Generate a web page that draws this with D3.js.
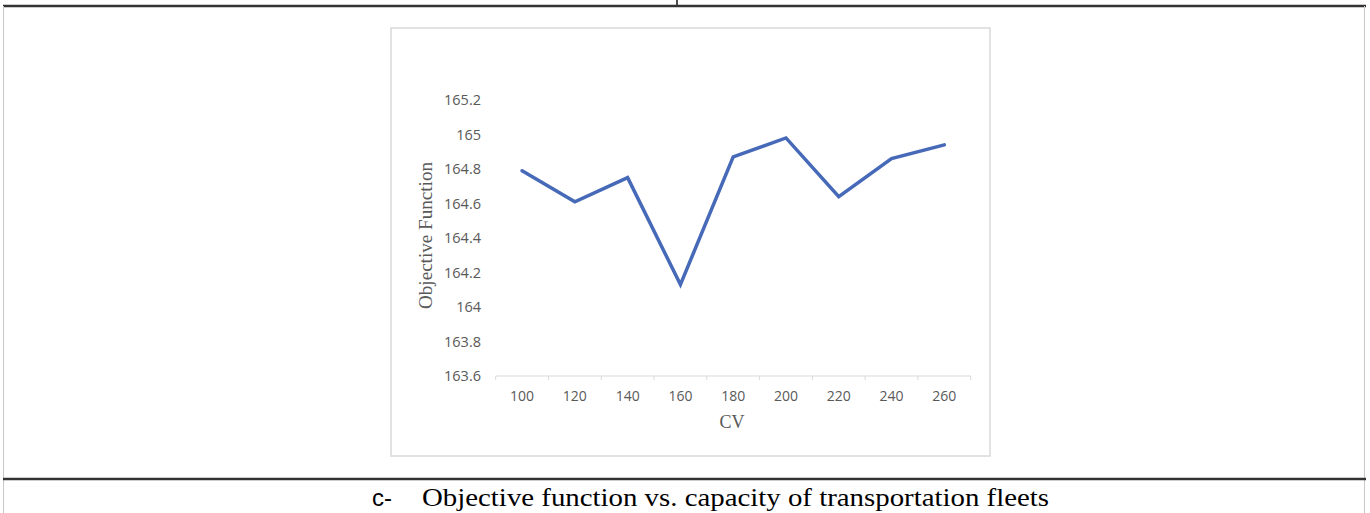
<!DOCTYPE html>
<html>
<head>
<meta charset="utf-8">
<script src="https://cdn.jsdelivr.net/npm/d3@7"></script>
<style>
  html, body { margin: 0; padding: 0; background: #fff; }
  svg { display: block; }
</style>
</head>
<body>
<svg id="fig" width="1370" height="513"></svg>
<script>
// Fleet capacity (CV) and the resulting objective function value
const categories = ["100", "120", "140", "160", "180", "200", "220", "240", "260"];
const objectiveValues = [164.79, 164.61, 164.75, 164.13, 164.87, 164.98, 164.64, 164.86, 164.94];
const yTicks = [163.6, 163.8, 164, 164.2, 164.4, 164.6, 164.8, 165, 165.2];

const svg = d3.select("#fig");

// Table rules surrounding the figure cell
svg.append("line").attr("x1", 677).attr("x2", 677).attr("y1", 0).attr("y2", 6)
  .attr("stroke", "#111").attr("stroke-width", 1.5);
svg.append("line").attr("x1", 3).attr("x2", 1366).attr("y1", 6).attr("y2", 6)
  .attr("stroke", "#333").attr("stroke-width", 2.5);
svg.append("line").attr("x1", 3.5).attr("x2", 3.5).attr("y1", 6).attr("y2", 513)
  .attr("stroke", "#c8c8c8").attr("stroke-width", 1);
svg.append("line").attr("x1", 1364.5).attr("x2", 1364.5).attr("y1", 6).attr("y2", 513)
  .attr("stroke", "#c8c8c8").attr("stroke-width", 1);
svg.append("line").attr("x1", 3).attr("x2", 1366).attr("y1", 479).attr("y2", 479)
  .attr("stroke", "#333").attr("stroke-width", 2.5);

// Chart frame
svg.append("rect").attr("x", 391).attr("y", 28).attr("width", 599).attr("height", 428)
  .attr("fill", "#fff").attr("stroke", "#d9d9d9").attr("stroke-width", 1.5);

const x = d3.scaleBand().domain(categories).range([495.7, 970.7]).padding(0);
const y = d3.scaleLinear().domain([163.6, 165.2]).range([376, 100]);

// X axis: Excel-style category axis with ticks between categories
const xAxisG = svg.append("g").attr("transform", "translate(0,376)");
xAxisG.append("line").attr("x1", x.range()[0]).attr("x2", x.range()[1])
  .attr("stroke", "#d9d9d9").attr("stroke-width", 1);
const boundaries = categories.map(c => x(c)).concat([x.range()[1]]);
xAxisG.selectAll("line.tk").data(boundaries).join("line").attr("class", "tk")
  .attr("x1", d => d).attr("x2", d => d).attr("y1", 0).attr("y2", 4)
  .attr("stroke", "#d9d9d9").attr("stroke-width", 1);
xAxisG.selectAll("text").data(categories).join("text")
  .attr("x", d => x(d) + x.bandwidth() / 2).attr("y", 25)
  .attr("text-anchor", "middle")
  .attr("font-family", "'Open Sans', sans-serif").attr("font-size", 14)
  .attr("fill", "#595959").text(d => d);

// Y axis: labels only, no axis line
const yAxis = d3.axisLeft(y).tickValues(yTicks).tickSize(0).tickPadding(0)
  .tickFormat(d => d3.format("")(+d.toFixed(1)));
const yAxisG = svg.append("g").attr("transform", "translate(481,0)").call(yAxis);
yAxisG.select(".domain").remove();
yAxisG.selectAll("text")
  .attr("font-family", "'Open Sans', sans-serif").attr("font-size", 14.5)
  .attr("fill", "#595959").attr("dy", "0.32em");

// Axis titles
svg.append("text").attr("x", 732).attr("y", 428).attr("text-anchor", "middle")
  .attr("font-family", "'Liberation Serif', serif").attr("font-size", 18)
  .attr("fill", "#595959").text("CV");
svg.append("text").attr("transform", "translate(432,235.5) rotate(-90)")
  .attr("text-anchor", "middle")
  .attr("font-family", "'Liberation Serif', serif").attr("font-size", 19)
  .attr("textLength", 147).attr("lengthAdjust", "spacingAndGlyphs")
  .attr("fill", "#595959").text("Objective Function");

// Series line
const line = d3.line()
  .x((d, i) => x(categories[i]) + x.bandwidth() / 2)
  .y(d => y(d));
svg.append("path").datum(objectiveValues).attr("d", line)
  .attr("fill", "none").attr("stroke", "#4669B8").attr("stroke-width", 3.5)
  .attr("stroke-linejoin", "miter").attr("stroke-linecap", "round");

// Caption
svg.append("text").attr("x", 372).attr("y", 506)
  .attr("font-family", "'Liberation Sans', sans-serif").attr("font-size", 24)
  .attr("fill", "#000").text("c-");
svg.append("text").attr("x", 422).attr("y", 506)
  .attr("font-family", "'Liberation Serif', serif").attr("font-size", 26)
  .attr("textLength", 627).attr("lengthAdjust", "spacingAndGlyphs")
  .attr("fill", "#000").text("Objective function vs. capacity of transportation fleets");
</script>
</body>
</html>
